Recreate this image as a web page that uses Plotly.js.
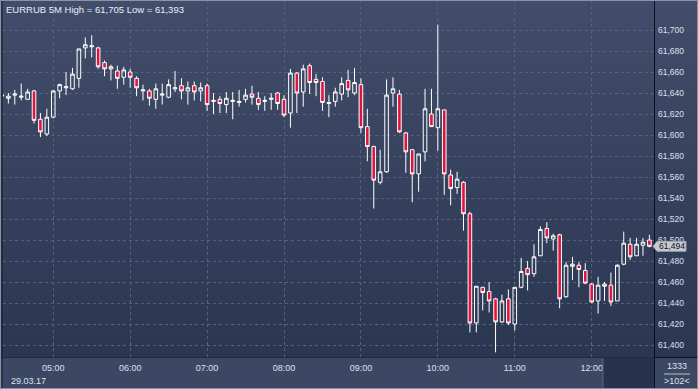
<!DOCTYPE html>
<html><head><meta charset="utf-8">
<script src="https://cdn.plot.ly/plotly-3.0.1.min.js"></script>
<style>html,body{margin:0;padding:0;background:#3d4964;overflow:hidden}</style>
</head><body><div id="chart" style="width:698px;height:389px"></div>
<script>
const symbol = 'EURRUB 5M';
const dateStr = '2017-03-29';
const dateLabel = '29.03.17';
const cornerCount = '1333';

const times = ['04:20','04:25','04:30','04:35','04:40','04:45','04:50','04:55',
'05:00','05:05','05:10','05:15','05:20','05:25','05:30','05:35','05:40','05:45','05:50','05:55',
'06:00','06:05','06:10','06:15','06:20','06:25','06:30','06:35','06:40','06:45','06:50','06:55',
'07:00','07:05','07:10','07:15','07:20','07:25','07:30','07:35','07:40','07:45','07:50','07:55',
'08:00','08:05','08:10','08:15','08:20','08:25','08:30','08:35','08:40','08:45','08:50','08:55',
'09:00','09:05','09:10','09:15','09:20','09:25','09:30','09:35','09:40','09:45','09:50','09:55',
'10:00','10:05','10:10','10:15','10:20','10:25','10:30','10:35','10:40','10:45','10:50','10:55',
'11:00','11:05','11:10','11:15','11:20','11:25','11:30','11:35','11:40','11:45','11:50','11:55',
'12:00','12:05','12:10','12:15','12:20','12:25','12:30','12:35','12:40','12:45'];

const open = [61.637,61.635,61.638,61.636,61.634,61.642,61.615,61.601,
61.617,61.642,61.645,61.644,61.654,61.683,61.684,61.683,61.669,61.665,61.661,61.655,
61.660,61.654,61.642,61.642,61.634,61.638,61.636,61.644,61.647,61.642,61.647,61.642,
61.647,61.632,61.634,61.629,61.632,61.631,61.634,61.639,61.635,61.632,61.634,61.640,
61.634,61.621,61.659,61.641,61.666,61.653,61.651,61.630,61.632,61.639,61.652,61.640,
61.648,61.608,61.589,61.555,61.565,61.640,61.639,61.602,61.586,61.563,61.584,61.620,
61.607,61.624,61.562,61.550,61.555,61.525,61.421,61.455,61.451,61.444,61.422,61.444,
61.420,61.455,61.473,61.468,61.485,61.511,61.501,61.505,61.446,61.477,61.476,61.471,
61.458,61.442,61.458,61.457,61.442,61.477,61.496,61.485,61.495,61.500];

const high = [61.639,61.640,61.643,61.649,61.644,61.643,61.621,61.625,
61.643,61.649,61.660,61.664,61.682,61.693,61.695,61.684,61.671,61.667,61.666,61.665,
61.663,61.656,61.648,61.644,61.649,61.649,61.653,61.661,61.654,61.651,61.651,61.650,
61.649,61.640,61.637,61.641,61.641,61.643,61.644,61.647,61.641,61.637,61.640,61.641,
61.638,61.663,61.660,61.667,61.668,61.658,61.655,61.638,61.645,61.655,61.662,61.664,
61.654,61.625,61.590,61.586,61.653,61.655,61.643,61.603,61.586,61.582,61.644,61.644,
61.705,61.624,61.567,61.565,61.556,61.527,61.456,61.455,61.460,61.445,61.448,61.453,
61.455,61.483,61.480,61.496,61.513,61.517,61.506,61.506,61.479,61.484,61.479,61.478,
61.459,61.465,61.460,61.469,61.477,61.508,61.502,61.502,61.502,61.505];

const low = [61.636,61.630,61.629,61.633,61.634,61.611,61.598,61.599,
61.616,61.635,61.638,61.643,61.645,61.673,61.674,61.663,61.656,61.652,61.644,61.648,
61.645,61.637,61.633,61.628,61.625,61.629,61.635,61.641,61.634,61.629,61.633,61.632,
61.623,61.620,61.621,61.621,61.615,61.627,61.631,61.629,61.624,61.623,61.624,61.624,
61.617,61.607,61.621,61.627,61.639,61.637,61.623,61.617,61.627,61.633,61.636,61.638,
61.602,61.575,61.530,61.553,61.564,61.627,61.602,61.564,61.536,61.546,61.575,61.608,
61.585,61.543,61.533,61.544,61.509,61.412,61.412,61.433,61.431,61.393,61.421,61.419,
61.414,61.454,61.452,61.465,61.485,61.497,61.490,61.435,61.445,61.462,61.455,61.458,
61.440,61.430,61.442,61.437,61.442,61.476,61.481,61.485,61.485,61.493];

const close = [61.638,61.637,61.639,61.637,61.641,61.614,61.603,61.617,
61.642,61.648,61.646,61.658,61.682,61.686,61.685,61.665,61.663,61.663,61.654,61.662,
61.655,61.645,61.643,61.635,61.644,61.639,61.648,61.645,61.642,61.645,61.641,61.645,
61.629,61.633,61.630,61.635,61.633,61.632,61.638,61.636,61.629,61.633,61.635,61.630,
61.619,61.659,61.640,61.663,61.650,61.650,61.631,61.631,61.641,61.649,61.643,61.650,
61.607,61.589,61.557,61.565,61.638,61.644,61.603,61.584,61.563,61.582,61.625,61.608,
61.625,61.563,61.549,61.558,61.525,61.421,61.456,61.450,61.442,61.422,61.442,61.421,
61.455,61.470,61.467,61.484,61.510,61.502,61.504,61.444,61.476,61.475,61.472,61.459,
61.441,61.457,61.456,61.441,61.476,61.497,61.484,61.496,61.498,61.494];

const hourTicks = ['05:00','06:00','07:00','08:00','09:00','10:00','11:00','12:00'];
const priceTicks = [61.400,61.420,61.440,61.460,61.480,61.500,61.520,61.540,61.560,61.580,
61.600,61.620,61.640,61.660,61.680,61.700];

// ---------- layout geometry ----------
const W = 698, H = 389;
const L = 3, R = 44, T = 0, B = 32;
const PW = W - L - R, PH = H - T - B;
const px2x = p => (p - L) / PW;
const py2y = p => 1 - (p - T) / PH;
const yMin = 61.3886, yMax = 61.7286;
const pxPerUnit = PH / (yMax - yMin);
const fmt = v => v.toFixed(3).replace('.', ',');

const xs = times.map(t => dateStr + ' ' + t);
const lastClose = close[close.length - 1];
const hi = Math.max(...high), lo = Math.min(...low);

const gradSvg = '<svg xmlns="http://www.w3.org/2000/svg" width="698" height="357" viewBox="0 0 698 357" preserveAspectRatio="none">' +
  '<defs><linearGradient id="g" x1="0" y1="0" x2="0" y2="1"><stop offset="0" stop-color="#414d6a"/><stop offset="1" stop-color="#2b3651"/></linearGradient></defs>' +
  '<rect width="698" height="357" fill="url(#g)"/></svg>';
const gradSrc = 'data:image/svg+xml;base64,' + btoa(gradSvg);

const font = 'Liberation Sans, Arial, sans-serif';
const lblColor = '#d9e0ee';

const trace = {
  type: 'candlestick', x: xs, open: open, high: high, low: low, close: close,
  increasing: {line: {color: '#ffffff', width: 1}, fillcolor: 'rgba(0,0,0,0)'},
  decreasing: {line: {color: '#ffffff', width: 1}, fillcolor: '#e0133f'},
  whiskerwidth: 0, hoverinfo: 'skip', showlegend: false
};

const dy = 5 / pxPerUnit;
const layout = {
  width: W, height: H,
  margin: {l: L, r: R, t: T, b: B, pad: 0},
  paper_bgcolor: '#3c4863', plot_bgcolor: 'rgba(0,0,0,0)',
  separators: ',.',
  boxgap: 0.2,
  showlegend: false,
  font: {family: font, size: 9, color: lblColor},
  xaxis: {
    type: 'date',
    range: [dateStr + ' 04:20:48', dateStr + ' 12:48:36'],
    tickvals: hourTicks.map(t => dateStr + ' ' + t), ticktext: hourTicks,
    tickfont: {family: font, size: 9, color: lblColor},
    showgrid: true, gridcolor: '#56627d', griddash: '3px,3px', gridwidth: 1,
    zeroline: false, showline: false, ticks: '', ticklabelstandoff: 4,
    rangeslider: {visible: false}, fixedrange: true
  },
  yaxis: {
    side: 'right', range: [yMin, yMax],
    tickvals: priceTicks, tickformat: '.3f',
    tickfont: {family: font, size: 8.5, color: lblColor},
    showgrid: true, gridcolor: '#56627d', griddash: '3px,3px', gridwidth: 1,
    zeroline: false, showline: false, ticks: '', ticklabelstandoff: 3, fixedrange: true
  },
  images: [{source: gradSrc, xref: 'paper', yref: 'paper', x: px2x(0), y: 1,
    sizex: W / PW, sizey: 1, sizing: 'stretch', xanchor: 'left', yanchor: 'top', layer: 'below'}],
  shapes: [
    {type: 'rect', xref: 'paper', yref: 'paper', x0: px2x(603), x1: px2x(654), y0: py2y(358), y1: py2y(389),
      fillcolor: '#28324c', line: {width: 0}},
    {type: 'line', xref: 'paper', yref: 'paper', x0: px2x(603), x1: px2x(603), y0: py2y(358), y1: py2y(389),
      line: {color: '#5b6580', width: 1}},
    {type: 'line', xref: 'paper', yref: 'paper', x0: px2x(0), x1: px2x(654), y0: py2y(357.5), y1: py2y(357.5),
      line: {color: '#222a3e', width: 1}},
    {type: 'line', xref: 'paper', yref: 'paper', x0: px2x(654), x1: px2x(698), y0: py2y(357.5), y1: py2y(357.5),
      line: {color: '#0c0f17', width: 1}},
    {type: 'line', xref: 'paper', yref: 'paper', x0: px2x(654.5), x1: px2x(654.5), y0: py2y(0), y1: py2y(389),
      line: {color: '#0c0f17', width: 1}},
    {type: 'line', xref: 'paper', yref: 'paper', x0: px2x(664), x1: px2x(690), y0: py2y(374), y1: py2y(374),
      line: {color: '#b8c0d0', width: 1}},
    {type: 'line', xref: 'paper', yref: 'paper', x0: px2x(2), x1: px2x(2), y0: py2y(0), y1: py2y(389),
      line: {color: '#151b29', width: 1}},
    {type: 'rect', xref: 'paper', yref: 'paper', x0: px2x(0.5), x1: px2x(697.5), y0: py2y(0.5), y1: py2y(388.5),
      line: {color: '#8a94a8', width: 1}},
    {type: 'path', xref: 'paper', yref: 'y', fillcolor: '#c6cad2', line: {color: '#9aa0ac', width: 1},
      path: 'M ' + px2x(653) + ' ' + lastClose +
            ' L ' + px2x(657) + ' ' + (lastClose + dy) +
            ' L ' + px2x(686) + ' ' + (lastClose + dy) +
            ' L ' + px2x(686) + ' ' + (lastClose - dy) +
            ' L ' + px2x(657) + ' ' + (lastClose - dy) + ' Z'}
  ],
  annotations: [
    {xref: 'paper', yref: 'paper', x: px2x(4), y: py2y(9.5), xanchor: 'left', yanchor: 'middle', showarrow: false,
      text: symbol + ' High = ' + fmt(hi) + ' Low = ' + fmt(lo), font: {family: font, size: 9.5, color: '#e8eef8'}},
    {xref: 'paper', yref: 'paper', x: px2x(9), y: py2y(380.5), xanchor: 'left', yanchor: 'middle', showarrow: false,
      text: dateLabel, font: {family: font, size: 9, color: lblColor}},
    {xref: 'paper', yref: 'y', x: px2x(671.5), y: lastClose, xanchor: 'center', yanchor: 'middle', showarrow: false,
      text: fmt(lastClose), font: {family: font, size: 8.5, color: '#111111'}},
    {xref: 'paper', yref: 'paper', x: px2x(677), y: py2y(366.5), xanchor: 'center', yanchor: 'middle', showarrow: false,
      text: cornerCount, font: {family: font, size: 9, color: lblColor}},
    {xref: 'paper', yref: 'paper', x: px2x(677), y: py2y(381), xanchor: 'center', yanchor: 'middle', showarrow: false,
      text: '&gt;' + times.length + '&lt;', font: {family: font, size: 9, color: lblColor}}
  ]
};

Plotly.newPlot('chart', [trace], layout, {staticPlot: true, displayModeBar: false});
</script></body></html>
